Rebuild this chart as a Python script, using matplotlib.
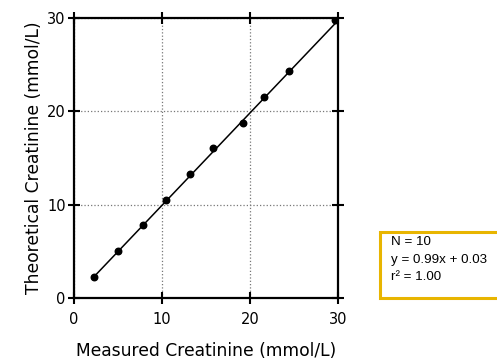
import numpy as np
import matplotlib
matplotlib.use("Agg")
import matplotlib.pyplot as plt
from matplotlib.patches import Rectangle

# values
measured = [2.3, 5.0, 7.85, 10.5, 13.2, 15.8, 19.15, 21.55, 24.4, 29.65]
theoretical = [2.3, 5.05, 7.8, 10.5, 13.3, 16.1, 18.8, 21.55, 24.35, 29.8]
slope = 0.99
intercept = 0.03
ticks = [0, 10, 20, 30]
statLines = ["N = 10", "y = 0.99x + 0.03", "r\u00b2 = 1.00"]

fig = plt.figure(figsize=(4.97, 3.62), dpi=100)
ax = fig.add_axes([74 / 497, 64 / 362, 264 / 497, 280 / 362])

xFit = np.array([min(measured), max(measured)])
ax.plot(xFit, slope * xFit + intercept, color="black", lw=1.1, zorder=3)
ax.scatter(measured, theoretical, s=22, color="black", zorder=4)

ax.set_xlim(0, 30)
ax.set_ylim(0, 30)
ax.set_xticks(ticks)
ax.set_yticks(ticks)
ax.grid(True, color="#777777", linestyle=":", linewidth=0.9)
for s in ax.spines.values():
    s.set_linewidth(1.6)
ax.tick_params(direction="inout", length=8, width=1.5, top=True, right=True,
               labelsize=10.5, pad=2)
ax.tick_params(axis="x", pad=6)
ax.set_xlabel("Measured Creatinine (mmol/L)", fontsize=12.3, labelpad=11)
ax.set_ylabel("Theoretical Creatinine (mmol/L)", fontsize=12.3, labelpad=3)

### stats box on the right
box = Rectangle((380 / 497, 64 / 362), 125 / 497, 66 / 362, transform=fig.transFigure,
                facecolor="white", edgecolor="#E8B500", linewidth=2.2, clip_on=False)
fig.patches.append(box)
for i, line in enumerate(statLines):
    fig.text(391 / 497, (362 - 242 - 17.5 * i) / 362, line, fontsize=9.6,
             family="Liberation Sans", va="center", ha="left")

fig.savefig("out.png", dpi=100)
